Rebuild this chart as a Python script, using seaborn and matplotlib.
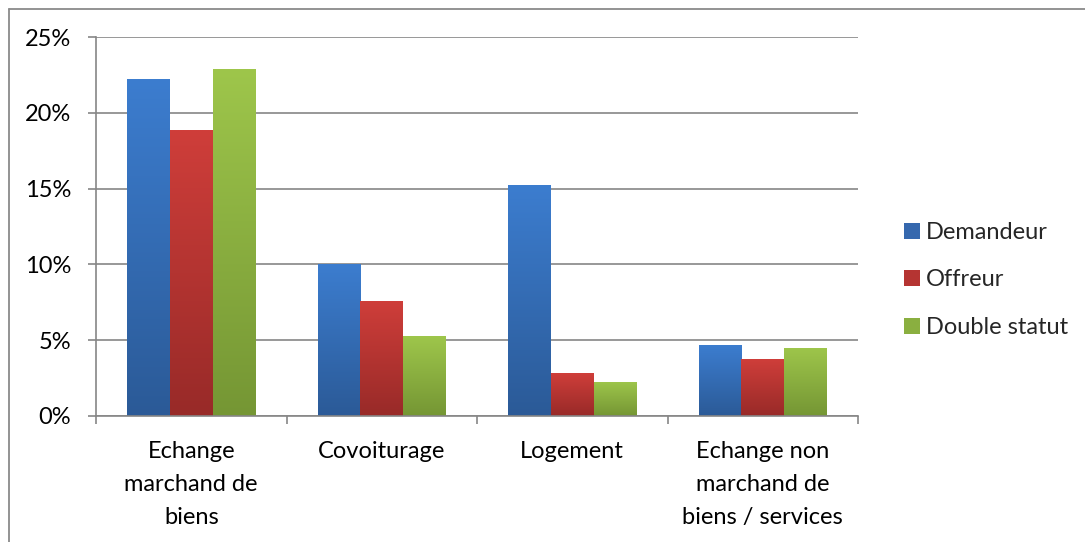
import numpy as np
import pandas as pd
import matplotlib
matplotlib.use("Agg")
import matplotlib.pyplot as plt
import seaborn as sns
from matplotlib.colors import LinearSegmentedColormap
from matplotlib.patches import Patch
from matplotlib.lines import Line2D
from matplotlib.ticker import FixedLocator, FuncFormatter

# ---- data (percent) ----
categories = ["Echange\nmarchand de\nbiens", "Covoiturage", "Logement",
              "Echange non\nmarchand de\nbiens / services"]
series = ["Demandeur", "Offreur", "Double statut"]
demandeur = [22.25, 10.0, 15.25, 4.65]
offreur = [18.85, 7.6, 2.8, 3.75]
double_statut = [22.9, 5.25, 2.25, 4.5]
y_ticks = [0, 5, 10, 15, 20, 25]

values = {"Demandeur": demandeur, "Offreur": offreur, "Double statut": double_statut}
df = pd.DataFrame([
    {"cat": c, "serie": s, "val": v}
    for s in series for c, v in zip(categories, values[s])
])

# colours: (bottom, top) for gradient, mid for legend
grad = {
    "Demandeur": ("#2B5A97", "#3C7DCF"),
    "Offreur": ("#982A28", "#CF3E3A"),
    "Double statut": ("#759634", "#9EC64B"),
}
mid = {"Demandeur": "#3568AE", "Offreur": "#B53432", "Double statut": "#8AAF40"}

sns.set_theme(style="white")
plt.rcParams["font.family"] = ["Lato", "DejaVu Sans"]
FS = 17

fig = plt.figure(figsize=(10.85, 5.42), dpi=100)
ax = fig.add_axes([96 / 1085, 1 - 415.7 / 542, (858 - 96) / 1085, (415.7 - 37.3) / 542])

sns.barplot(data=df, x="cat", y="val", hue="serie", hue_order=series,
            order=categories, palette=[mid[s] for s in series], width=0.67,
            ax=ax, legend=False, saturation=1, edgecolor="none", linewidth=0)

gradient = np.linspace(0, 1, 256).reshape(-1, 1)
for s, cont in zip(series, ax.containers):
    cmap = LinearSegmentedColormap.from_list(s, list(grad[s]))
    for p in cont.patches:
        x0, y0 = p.get_x(), p.get_y()
        w, h = p.get_width(), p.get_height()
        im = ax.imshow(gradient, extent=[x0, x0 + w, y0, y0 + h], origin="lower",
                       aspect="auto", cmap=cmap, zorder=p.get_zorder(),
                       interpolation="bilinear")
        im.set_clip_path(p)

ax.set_xlim(-0.5, len(categories) - 0.5)
ax.set_ylim(0, 25)
ax.set_aspect("auto")
ax.set_xlabel("")
ax.set_ylabel("")

grid_c = "#868686"
ax.set_axisbelow(True)
ax.yaxis.grid(True, color=grid_c, linewidth=1.2)
ax.xaxis.grid(False)
for side in ["top", "right"]:
    ax.spines[side].set_visible(False)
for side in ["left", "bottom"]:
    ax.spines[side].set_color(grid_c)
    ax.spines[side].set_linewidth(1.2)

ax.yaxis.set_major_locator(FixedLocator(y_ticks))
ax.yaxis.set_major_formatter(FuncFormatter(lambda v, _: f"{v:.0f}%"))
ax.tick_params(axis="y", which="major", direction="out", length=6, width=1.2,
               color=grid_c, labelsize=FS, pad=12, labelcolor="black", left=True)

ax.set_xticks(range(len(categories)))
ax.set_xticklabels(categories, fontsize=FS, linespacing=1.7)
ax.xaxis.set_minor_locator(FixedLocator([i - 0.5 for i in range(len(categories) + 1)]))
ax.tick_params(axis="x", which="major", length=0, pad=18.5, labelcolor="black")
ax.tick_params(axis="x", which="minor", direction="out", length=6, width=1.2,
               color=grid_c, bottom=True)

handles = [Patch(facecolor=mid[s], edgecolor="none") for s in series]
fig.legend(handles, series, loc="center left",
           bbox_to_anchor=(895 / 1085, 1 - 280 / 542), frameon=False,
           fontsize=FS, handlelength=0.65, handleheight=0.65, handletextpad=0.25,
           labelspacing=1.12, borderaxespad=0)

# outer chart frame (left and top edges visible)
fc = "#8A8A8A"
fig.add_artist(Line2D([8.5 / 1085, 8.5 / 1085], [0, 1 - 9 / 542],
                      transform=fig.transFigure, color=fc, lw=1.3))
fig.add_artist(Line2D([8.5 / 1085, 1], [1 - 9 / 542, 1 - 9 / 542],
                      transform=fig.transFigure, color=fc, lw=1.3))

fig.savefig("out.png", dpi=100)
